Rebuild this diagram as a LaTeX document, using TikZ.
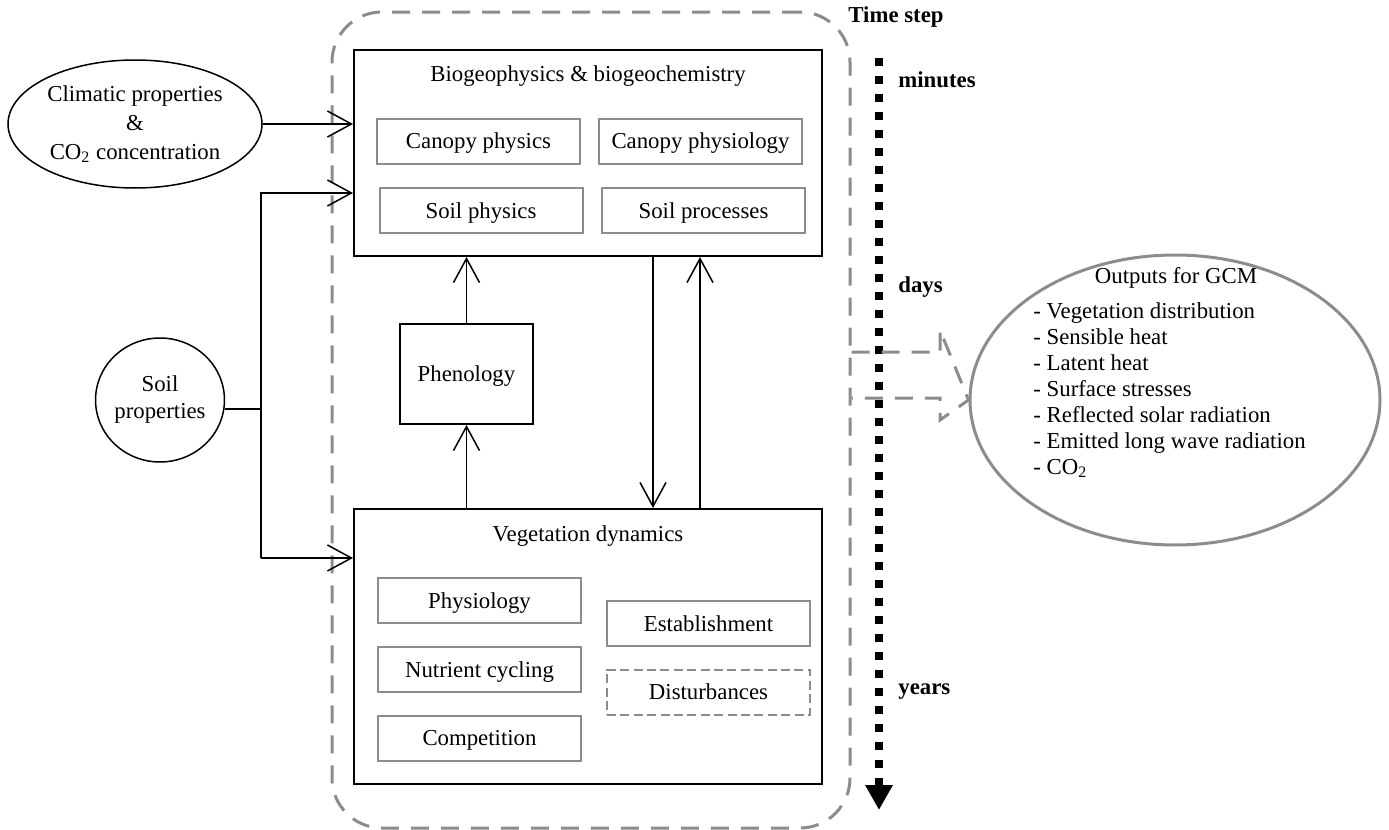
\documentclass[tikz,border=0pt]{standalone}
\usepackage{fontspec}
\setmainfont{Liberation Serif}
\usepackage{tikz}
\usetikzlibrary{arrows.meta, shapes.geometric}
\definecolor{framegray}{HTML}{8C8C8C}
\tikzset{
  every node/.style = {font=\fontsize{11.4pt}{13pt}\selectfont, inner sep=0pt},
  mainbox/.style = {draw=black, line width=1pt, minimum width=234pt, text depth=0pt},
  subbox/.style = {draw=framegray, line width=1pt, minimum width=101.5pt,
    minimum height=22.5pt, text depth=0pt},
  subdash/.style = {subbox, dash pattern=on 4.5pt off 2.2pt},
  blob/.style = {ellipse, draw=black, line width=0.75pt, align=center},
  line/.style = {line width=0.75pt},
  arr/.style = {line, -{Straight Barb[length=12pt,width=13pt]}},
  grayframe/.style = {draw=framegray, line width=1.5pt,
    dash pattern=on 9pt off 6pt, rounded corners=25pt},
  timeline/.style = {line width=4pt, dash pattern=on 4pt off 5pt},
  timelabel/.style = {anchor=west, font=\fontsize{11.4pt}{13pt}\selectfont\bfseries}
}
\begin{document}
\begin{tikzpicture}[x=0.5pt, y=-0.5pt]
\useasboundingbox (0,0) rectangle (1389,830);

% model frame
\node [grayframe, minimum width=259pt, minimum height=408pt] (frame) at (591,420) {};

% biogeophysics block
\node [mainbox, minimum height=103pt] (biogeo) at (588,153) {};
\node [text depth=0pt] (biotitle) at (588,74) {Biogeophysics \& biogeochemistry};
\node [subbox] (canphys) at (478.5,141) {Canopy physics};
\node [subbox] (canphysio) at (700.5,141) {Canopy physiology};
\node [subbox] (soilphys) at (481,210.5) {Soil physics};
\node [subbox] (soilproc) at (703.5,210.5) {Soil processes};

\node [mainbox, minimum width=66.5pt, minimum height=50pt] (phen) at (466.5,374) {Phenology};

% vegetation block
\node [mainbox, minimum height=137.5pt] (veg) at (588,646.5) {};
\node [text depth=0pt] (vegtitle) at (588,534) {Vegetation dynamics};
\node [subbox] (physio) at (479.5,600.5) {Physiology};
\node [subbox] (nutrient) at (479.5,669.5) {Nutrient cycling};
\node [subbox] (compet) at (479.5,738) {Competition};
\node [subbox] (establ) at (708.5,623.5) {Establishment};
\node [subdash] (disturb) at (708.5,692) {Disturbances};

% inputs
\node [blob, minimum width=127pt, minimum height=64pt,
  font=\fontsize{11.4pt}{14.5pt}\selectfont] (clim) at (135,124)
  {Climatic properties\\\&\\CO\textsubscript{2} concentration};
\node [blob, minimum width=57pt, minimum height=62pt,
  font=\fontsize{11.4pt}{13.5pt}\selectfont] (soil) at (160,400)
  {Soil\\properties};

\coordinate (jtop) at (261,193);
\coordinate (jbot) at (261,558);
\draw [arr] (clim.east) -- (clim.east -| biogeo.west);
\draw [line] (soil.-8) -- (soil.-8 -| jtop);
\draw [arr] (jbot) -- (jtop) -- (jtop -| biogeo.west);
\draw [arr] (jbot) -- (jbot -| veg.west);

\draw [arr] (phen.north) -- (phen.north |- biogeo.south);
\draw [arr] (phen.south |- veg.north) -- (phen.south);
\coordinate (down) at (653,0);
\coordinate (up) at (700,0);
\draw [arr] (down |- biogeo.south) -- (down |- veg.north);
\draw [arr] (up |- veg.north) -- (up |- biogeo.south);

% time axis
\node [timelabel] (tstep) at (848,17) {Time step};
\coordinate (tstart) at (879,58);
\coordinate (tend) at (879,810);
\draw [timeline, -{Triangle[length=12.5pt,width=13pt]}] (tstart) -- (tend);
\node [timelabel] (tmin) at (898,80) {minutes};
\node [timelabel] (tdays) at (898,287) {days};
\node [timelabel] (tyears) at (898,692) {years};

% outputs
\node [ellipse, draw=framegray, line width=1.5pt, minimum width=205pt,
  minimum height=145pt] (outputs) at (1175,400) {};
\node (outtitle) at (1176,278) {Outputs for GCM};
\node [anchor=north west, align=left] (outlist) at (1033,302)
  {- Vegetation distribution\\- Sensible heat\\- Latent heat\\- Surface stresses\\
   - Reflected solar radiation\\- Emitted long wave radiation\\- CO\textsubscript{2}};

\draw [grayframe, rounded corners=0pt] (frame.east |- 0,352) -- (940,352) -- (940,330)
  -- (outputs.west) -- (940,420) -- (940,398) -- (frame.east |- 0,398);
\end{tikzpicture}
\end{document}
